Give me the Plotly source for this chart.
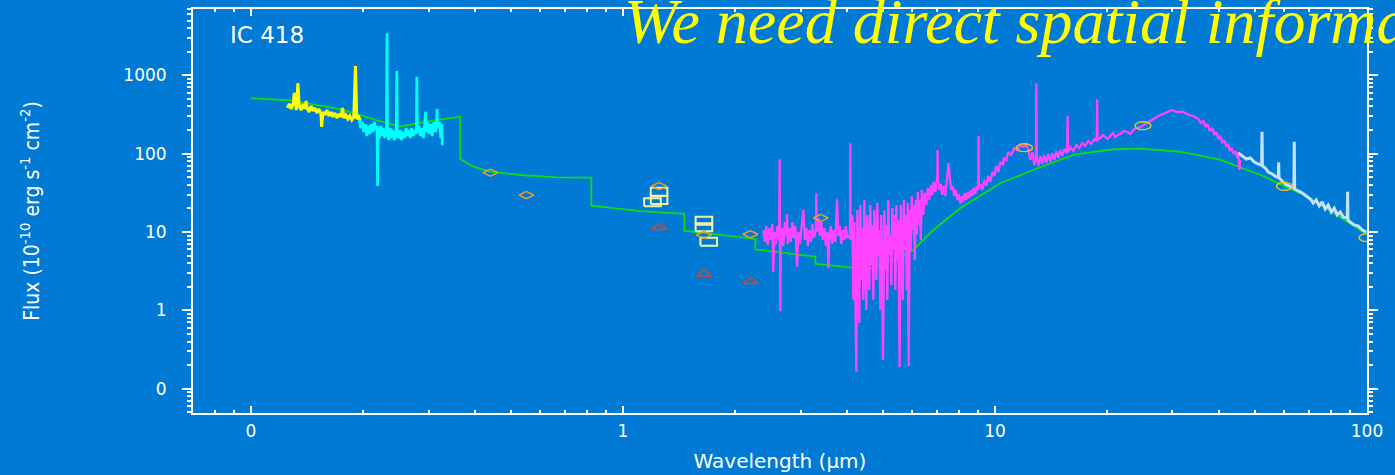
import numpy as np
import plotly.graph_objects as go

# ---------------------------------------------------------------- data
# IUE short-wavelength spectrum (wavelength in micron, flux in 1e-10 erg/s/cm2)
iue_short_wl = [0.1252, 0.1267, 0.1283, 0.1299, 0.1307, 0.1315, 0.1323, 0.1337, 0.1347, 0.1364,
                0.1381, 0.1398, 0.1406, 0.1415, 0.1432, 0.1450, 0.1468, 0.1486, 0.1504, 0.1523,
                0.1542, 0.1548, 0.1561, 0.1580, 0.1600, 0.1620, 0.1640, 0.1660, 0.1680, 0.1701,
                0.1722, 0.1743, 0.1762, 0.1776, 0.1798, 0.1820, 0.1843, 0.1866, 0.1889, 0.1909,
                0.1924, 0.1948, 0.1972]
iue_short_flux = [383, 431, 372, 444, 595, 406, 361, 792, 406, 361,
                  431, 372, 470, 383, 340, 406, 351, 383, 330, 372,
                  321, 219, 340, 311, 361, 302, 340, 294, 330, 285,
                  321, 294, 383, 285, 311, 277, 302, 269, 294, 1316,
                  277, 294, 261]

# IUE long-wavelength spectrum
iue_long_wl = [0.1955, 0.1972, 0.1991, 0.2009, 0.2029, 0.2048, 0.2066, 0.2086, 0.2105, 0.2125,
               0.2144, 0.2164, 0.2182, 0.2189, 0.2196, 0.2212, 0.2231, 0.2250, 0.2270, 0.2290,
               0.2314, 0.2321, 0.2328, 0.2346, 0.2366, 0.2386, 0.2407, 0.2428, 0.2457, 0.2466,
               0.2473, 0.2492, 0.2520, 0.2537, 0.2566, 0.2584, 0.2611, 0.2632, 0.2658, 0.2681,
               0.2703, 0.2725, 0.2764, 0.2784, 0.2791, 0.2799, 0.2826, 0.2851, 0.2877, 0.2904,
               0.2931, 0.2948, 0.2958, 0.2986, 0.3014, 0.3042, 0.3071, 0.3100, 0.3129, 0.3155,
               0.3163, 0.3171, 0.3217, 0.3237, 0.3257, 0.3268]
iue_long_flux = [269, 212, 253, 189, 238, 168, 226, 178, 238, 189,
                 253, 200, 226, 38.6, 212, 158, 226, 168, 212, 158,
                 200, 3435, 189, 149, 212, 158, 200, 149, 189, 1135,
                 178, 158, 200, 149, 189, 158, 212, 168, 200, 158,
                 212, 168, 200, 178, 959, 189, 226, 168, 212, 158,
                 238, 343, 189, 253, 178, 238, 168, 253, 189, 226,
                 372, 212, 253, 158, 238, 128]

# ISO SWS spectrum
sws_wl = [2.3834, 2.4056, 2.4281, 2.4507, 2.4736, 2.4966, 2.5199, 2.5355, 2.5513, 2.5751,
          2.5991, 2.6282, 2.6364, 2.6413, 2.6479, 2.6544, 2.6726, 2.6975, 2.7227, 2.7515,
          2.7600, 2.7737, 2.7996, 2.8257, 2.8521, 2.8787, 2.9056, 2.9363, 2.9601, 2.9877,
          3.0156, 3.0531, 3.0816, 3.1104, 3.1394, 3.1687, 3.1983, 3.2281, 3.2583, 3.2989,
          3.3091, 3.3194, 3.3497, 3.3810, 3.4125, 3.4444, 3.4765, 3.5089, 3.5417, 3.5637,
          3.5858, 3.6193, 3.6530, 3.6871, 3.7215, 3.7609, 3.7912, 3.8266, 3.8623, 3.8984,
          3.9347, 3.9715, 4.0085, 4.0761, 4.0837, 4.0913,
          4.1346, 4.1603, 4.1861, 4.2121, 4.2382, 4.2646, 4.2910, 4.3177, 4.3445, 4.3715,
          4.3986, 4.4259, 4.4534, 4.4810, 4.5088, 4.5368, 4.5650, 4.5933, 4.6218, 4.6505,
          4.6794, 4.7084, 4.7377, 4.7671, 4.7967, 4.8264, 4.8564, 4.8865, 4.9169, 4.9474,
          4.9997, 5.0401, 5.0714, 5.1029, 5.1345, 5.1664, 5.1985, 5.2307, 5.2632, 5.2959,
          5.3287, 5.3618, 5.3951, 5.4286, 5.4623, 5.4962, 5.5406, 5.5818, 5.6165, 5.6514,
          5.6865, 5.7218, 5.7573, 5.7930, 5.8290, 5.8579, 5.9016, 5.9383, 5.9751, 6.0122,
          6.0496, 6.0871, 6.1249, 6.1629, 6.2012, 6.2397, 6.2784, 6.3174, 6.3566, 6.4158,
          6.4757, 6.5361, 6.5970, 6.6586, 6.7207, 6.7833, 6.8466, 6.9105, 6.9966, 7.0095,
          7.0226, 7.0837, 7.1497, 7.2164, 7.2837, 7.3516, 7.4202, 7.5033, 7.5593, 7.6298,
          7.7010, 7.7728, 7.8453, 7.9185, 7.9924, 8.0669, 8.1422, 8.2181, 8.2948, 8.3722,
          8.4503, 8.5291, 8.6087, 8.6890, 8.7700, 8.8518, 8.9344, 9.0177, 9.0344, 9.0513,
          9.1299, 9.2437, 9.3589, 9.4755, 9.5936, 9.7131, 9.8342, 9.9568, 10.081, 10.207,
          10.333, 10.527, 10.546, 10.725, 10.859, 11.062, 11.270, 11.481, 11.697, 11.916,
          12.140, 12.291, 12.444, 12.599, 12.756, 12.875, 12.915, 12.955, 13.076, 13.239,
          13.404, 13.571, 13.740, 13.911, 14.085, 14.260, 14.438, 14.617, 14.799, 14.984,
          15.170, 15.359, 15.628, 15.676, 15.725, 15.939, 16.238, 16.543, 16.853, 17.169,
          17.490, 17.818, 18.152, 18.493, 18.770, 18.817, 18.864, 19.193, 19.49, 19.796,
          20.10, 20.419, 20.74, 21.061, 21.39, 21.724, 22.20, 22.686, 23.11, 23.543,
          24.06, 24.587, 25.516, 26.646, 27.484, 28.349, 29.058, 29.971, 30.914, 32.081,
          33.091, 34.132, 35.206, 35.76, 36.314, 36.77, 37.224, 37.80, 38.395, 38.87,
          39.357, 39.85, 40.343, 40.84, 41.354, 41.87, 42.390, 42.78, 43.184, 43.722,
          44.267, 44.818, 45.097, 45.376, 45.658]
sws_flux = [10.6, 7.46, 11.9, 6.83, 11.2, 7.91, 12.7, 3.09, 10.0, 7.03,
            11.9, 7.91, 84.7, 8.38, 0.98, 8.89, 11.2, 6.63, 13.4, 8.89,
            17.0, 7.03, 11.2, 7.46, 13.4, 8.38, 11.9, 3.58, 10.0, 7.03,
            11.9, 19.1, 7.91, 11.2, 6.63, 10.6, 7.46, 12.7, 8.38, 10.6,
            31.2, 10.0, 15.1, 8.89, 13.4, 7.91, 11.2, 6.63, 10.0, 3.47,
            8.38, 11.9, 7.03, 10.6, 7.46, 26.2, 8.89, 11.9, 7.03, 10.6,
            7.91, 11.9, 8.38, 9.16, 135.6, 7.91,
            16.5, 1.36, 13.4, 1.82, 0.163, 19.1, 5.89, 0.69, 22.1, 2.44,
            11.2, 1.36, 25.6, 4.39, 1.01, 16.5, 7.91, 1.82, 22.1, 3.79,
            12.3, 1.36, 19.1, 6.83, 2.44, 23.4, 5.09, 10.6, 1.01, 16.5,
            0.232, 19.1, 3.27, 12.3, 1.36, 25.6, 5.09, 9.16, 2.11, 20.2,
            5.89, 16.5, 1.82, 22.1, 4.39, 14.2, 0.189, 22.1, 7.91, 1.36,
            25.6, 5.89, 16.5, 1.82, 23.4, 0.195, 19.1, 5.89, 28.8, 10.6,
            22.1, 4.39, 25.6, 9.16, 32.4, 12.3, 25.6, 7.91, 34.4, 16.5,
            31.5, 22.1, 36.4, 25.6, 39.8, 29.7, 43.5, 32.4, 48.9, 111.3,
            46.1, 34.4, 41.0, 29.7, 38.6, 28.8, 46.1, 76.0, 48.9, 34.4,
            38.6, 28.8, 34.4, 25.6, 30.5, 22.8, 28.8, 24.2, 31.5, 25.6,
            32.4, 27.2, 34.4, 28.8, 36.4, 30.5, 38.6, 34.4, 168, 36.4,
            41.0, 34.4, 46.1, 38.6, 51.9, 43.5, 58.3, 51.9, 69.6, 58.3,
            78.2, 71.7, 88.0, 83.0, 105, 96.1, 118.1, 111.3, 128.9, 121.6,
            128.9, 111.3, 83.0, 105, 71.7, 96.1, 790.6, 88.0, 69.6, 93.3,
            73.8, 96.1, 76.0, 99.0, 78.2, 101.9, 83.0, 108.1, 88.0, 111.3,
            93.3, 114.6, 101.9, 305.1, 105, 121.6, 108.1, 128.9, 118.1, 136.7,
            125.2, 145, 132.8, 153.8, 145, 494, 149.4, 158.4, 173, 163.2,
            153.8, 168, 183.5, 163.2, 173, 178.2, 194.6, 188.9, 178.2, 200.4,
            212.5, 218.9, 246.1, 276.8, 302.4, 320.7, 340.1, 360.7, 340.1, 340.1,
            311.4, 302.4, 276.8, 246.1, 261, 218.9, 238, 194.6, 212.5, 173,
            188.9, 153.8, 168, 136.7, 149.4, 121.6, 132.8, 108.1, 118.1, 99.0,
            108.1, 88.0, 105, 61.9, 83.0]

# ISO LWS spectrum
lws_wl = [45.097, 46.226, 47.383, 48.570, 49.786, 51.033, 52.086, 52.215, 52.345, 53.289,
          54.289, 55.648, 57.041, 57.751, 57.858, 58.001, 58.822, 60.295, 61.805, 63.587,
          63.745, 63.903, 65.342, 66.978, 68.655, 70.374, 71.694, 73.037, 74.406, 75.800,
          77.220, 78.667, 80.141, 81.643, 83.172, 84.731, 86.318, 88.514, 88.678, 88.897,
          90.153, 92.447, 94.760, 97.132, 99.569]
lws_flux = [101.9, 93.3, 85.4, 88.0, 78.2, 73.8, 71.7, 190.6, 69.6, 65.6,
            58.3, 55.0, 50.4, 50.4, 77.5, 48.9, 46.1, 41.0, 38.6, 36.4,
            142.1, 35.4, 33.4, 31.5, 28.8, 26.4, 23.4, 25.6, 21.5, 24.2,
            19.7, 22.1, 18.0, 20.2, 16.5, 18.0, 15.5, 15.1, 32.7, 14.2,
            13.4, 12.3, 11.9, 10.6, 10.0]

# Photoionisation model SED
model_wl = [0.1, 0.1276, 0.1771, 0.2158, 0.252, 0.3034, 0.3652, 0.3652, 0.3958, 0.4396,
            0.5395, 0.666, 0.822, 0.822, 1.113, 1.462, 1.462, 1.861, 2.269, 2.269,
            3.289, 3.289, 4.083, 4.48, 5.33, 6.03, 6.83, 8.07, 10.33, 12.68,
            16.24, 20.8, 24.6, 31.5, 40.4, 51.7, 69.2, 89.1, 100.0]
model_flux = [509, 477, 361, 269, 222, 261, 296, 85.5, 68.2, 58.9,
              53.0, 49.9, 49.3, 21.7, 18.5, 17.0, 10.4, 9.16, 8.15, 6.01,
              4.84, 3.91, 3.54, 3.21, 4.39, 5.89, 10.6, 20.2, 41.9, 61.9,
              96.2, 113.7, 115.7, 105.8, 83.0, 53.4, 28.3, 13.2, 9.4]

# Broad-band photometry
optical_wl = [0.44, 0.55, 1.25, 1.65, 2.2, 3.4]
optical_flux = [57.1, 29.6, 38.6, 9.2, 9.36, 15.1]
nir_box_wl = [1.25, 1.25, 1.20, 1.65, 1.65, 1.70]
nir_box_flux = [32.7, 25.6, 23.9, 13.9, 11.5, 7.52]
nir_tri_wl = [1.25, 1.65, 2.2]
nir_tri_flux = [11.8, 3.02, 2.42]
iras_wl = [12, 25, 60, 100]
iras_flux = [119, 227, 38.3, 8.46]

x_tick_vals = [0.1, 1, 10, 100]
x_tick_text = ["0", "1", "10", "100"]
y_tick_vals = [0.1, 1, 10, 100, 1000]
y_tick_text = ["0", "1", "10", "100", "1000"]

# ---------------------------------------------------------------- layout geometry
WIDTH, HEIGHT = 1395, 475
MARGIN = dict(l=193, r=28, t=9, b=62)
X_RANGE = [-1.156, 2.0]     # log10(micron)
Y_RANGE = [-1.31, 3.846]    # log10(flux)
BG = "#007AD4"

x_dec_per_px = (X_RANGE[1] - X_RANGE[0]) / (WIDTH - MARGIN["l"] - MARGIN["r"])
y_dec_per_px = (Y_RANGE[1] - Y_RANGE[0]) / (HEIGHT - MARGIN["t"] - MARGIN["b"])

_t = np.linspace(0, 2 * np.pi, 33)
OUTLINES = {
    "diamond": [(0, 1), (1, 0), (0, -1), (-1, 0), (0, 1)],
    "box": [(-1, -1), (1, -1), (1, 1), (-1, 1), (-1, -1)],
    "triangle": [(-1, -1), (0, 1), (1, -1), (-1, -1)],
    "ellipse": list(zip(np.cos(_t), np.sin(_t))),
}


def outline_marks(wl, flux, kind, half_w, half_h):
    """Open symbols of fixed pixel size, drawn as closed outlines around each point."""
    xs, ys = [], []
    for x0, y0 in zip(wl, flux):
        for u, v in OUTLINES[kind]:
            xs.append(x0 * 10 ** (u * half_w * x_dec_per_px))
            ys.append(y0 * 10 ** (v * half_h * y_dec_per_px))
        xs.append(None)
        ys.append(None)
    return xs, ys


fig = go.Figure()

# model first so the spectra sit on top of it
fig.add_trace(go.Scatter(x=model_wl, y=model_flux, mode="lines",
                         line=dict(color="#10DD10", width=1.8)))

for wl, fl, col, w in [(iue_short_wl, iue_short_flux, "#FFFF00", 3),
                       (iue_long_wl, iue_long_flux, "#00FFFF", 2.8),
                       (sws_wl, sws_flux, "#FF44FF", 2.3),
                       (lws_wl, lws_flux, "#C4E2FF", 3)]:
    fig.add_trace(go.Scatter(x=wl, y=fl, mode="lines", line=dict(color=col, width=w)))

for wl, fl, kind, hw, hh, col, lw in [
        (nir_box_wl, nir_box_flux, "box", 8.3, 4.0, "#F2F2A8", 2),
        (optical_wl, optical_flux, "diamond", 7.5, 3.6, "#F0A020", 1.4),
        (nir_tri_wl, nir_tri_flux, "triangle", 7.5, 3.2, "#E84020", 1.4),
        (iras_wl, iras_flux, "ellipse", 8.0, 4.0, "#E8C428", 1.4)]:
    xs, ys = outline_marks(wl, fl, kind, hw, hh)
    fig.add_trace(go.Scatter(x=xs, y=ys, mode="lines", line=dict(color=col, width=lw)))

axis_common = dict(
    type="log", showgrid=False, zeroline=False, showline=True,
    linecolor="white", linewidth=2, mirror="ticks",
    tickcolor="white", tickwidth=2, automargin=False,
    tickfont=dict(family="DejaVu Sans", size=17, color="white"),
)

x_minor = [k * 10.0 ** e for e in range(-2, 2) for k in range(2, 10)]
y_minor = [k * 10.0 ** e for e in range(-2, 4) for k in range(2, 10)]

fig.update_layout(
    width=WIDTH, height=HEIGHT, margin=MARGIN,
    template="none", showlegend=False,
    paper_bgcolor=BG, plot_bgcolor=BG,
    xaxis=dict(axis_common, range=X_RANGE, tickvals=x_tick_vals, ticktext=x_tick_text,
               ticks="inside", ticklen=7, ticklabelstandoff=2,
               minor=dict(ticks="inside", ticklen=3, tickwidth=1.5, tickcolor="white",
                          tickvals=x_minor),
               title=dict(text="Wavelength (μm)", standoff=14,
                          font=dict(family="DejaVu Sans", size=20, color="white"))),
    yaxis=dict(axis_common, range=Y_RANGE, tickvals=y_tick_vals, ticktext=y_tick_text,
               ticks="outside", ticklen=9, ticklabelstandoff=12,
               minor=dict(ticks="outside", ticklen=4, tickwidth=1.5, tickcolor="white",
                          tickvals=y_minor),
               title=dict(text="Flux (10<sup>-10</sup> erg s<sup>-1</sup> cm<sup>-2</sup>)",
                          standoff=78,
                          font=dict(family="DejaVu Sans Condensed, Liberation Sans Narrow, DejaVu Sans",
                                    size=21, color="white"))),
    annotations=[
        dict(text="IC 418", xref="paper", yref="paper", x=0.0298, y=0.9356,
             xanchor="left", yanchor="middle", showarrow=False,
             font=dict(family="DejaVu Sans", size=23, color="white")),
        dict(text="We need direct spatial information", xref="paper", yref="paper",
             x=0.3654, y=0.968, xanchor="left", yanchor="middle", showarrow=False,
             font=dict(family="Liberation Serif", size=64, color="#FFFF00", style="italic")),
    ],
)

fig.write_html("out.html")
